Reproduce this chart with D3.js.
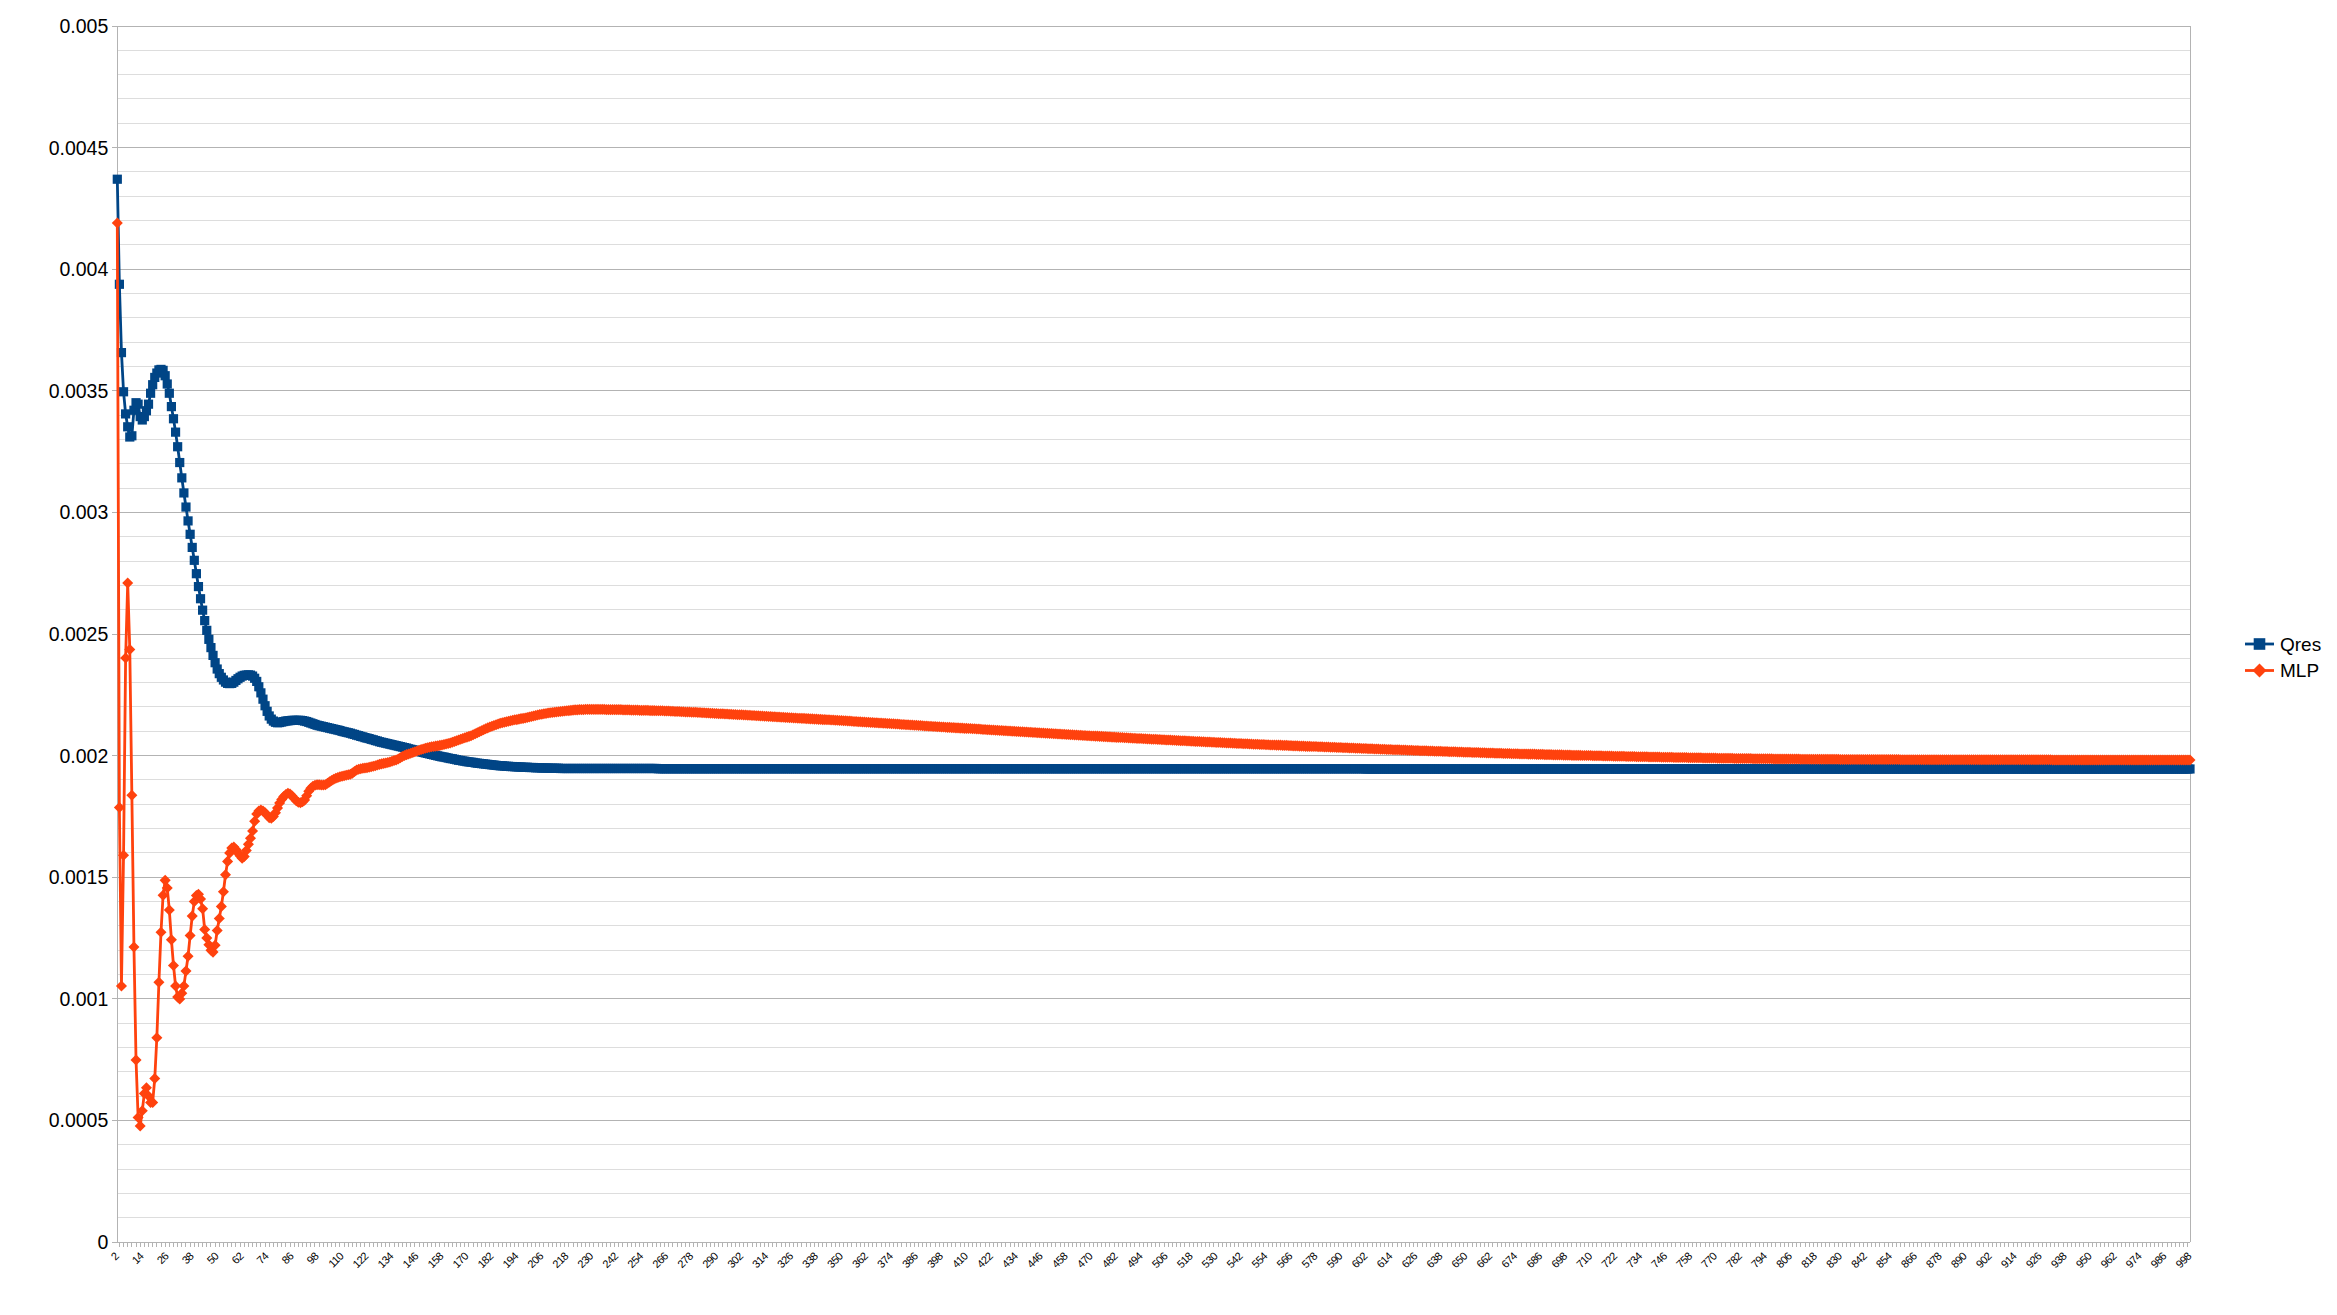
<!DOCTYPE html>
<html>
<head>
<meta charset="utf-8">
<script src="https://cdn.jsdelivr.net/npm/d3@7"></script>
<style>
	body { margin: 0; background: #fff; }
	svg { display: block; font-family: 'Liberation Sans', Arial, sans-serif; }
</style>
</head>
<body>
<div id="chart"></div>
<script>
'use strict';

// epochs on the category axis
const firstEpoch = 2;
const lastEpoch = 998;
const epochs = d3.range(firstEpoch, lastEpoch + 1);

const UNIT = 1e-6;

const qres = [
	4370,3938,3657,3496,3405,3352,3310,3315,3420,3451,
	3445,3394,3380,3394,3418,3445,3490,3525,3555,3573,
	3586,3588,3584,3562,3528,3490,3435,3385,3330,3270,
	3205,3142,3080,3022,2965,2910,2856,2803,2748,2695,
	2645,2598,2555,2515,2478,2444,2412,2382,2356,2337,
	2322,2311,2302,2297,2296,2297,2302,2309,2316,2322,
	2327,2330,2331,2332,2331,2327,2318,2305,2283,2258,
	2232,2205,2182,2163,2150,2142,2137,2135,2136,2138,
	2140,2142,2143,2144,2145,2145,2145,2145,2145,2144,
	2142,2140,2137,2134,2131,2128,2125,2123,2121,2119,
	2117,2115,2113,2111,2109,2107,2105,2103,2100,2098,
	2096,2094,2092,2089,2087,2084,2082,2079,2077,2074,
	2072,2070,2067,2065,2062,2060,2057,2055,2053,2051,
	2049,2047,2045,2043,2041,2039,2037,2035,2033,2031,
	2028,2026,2024,2022,2020,2017,2015,2013,2011,2009,
	2007,2005,2003,2001,1999,1997,1995,1994,1992,1990,
	1988,1987,1985,1983,1981,1980,1978,1977,1975,1974,
	1973,1972,1970,1969,1968,1967,1966,1965,1964,1963,
	1962,1961,1960,1959,1958,1958,1957,1956,1956,1955,
	1955,1954,1954,1953,1953,1952,1952,1952,1951,1951,
	1951,1950,1950,1950,1949,1949,1949,1949,1948,1948,
	1948,1948,1948,1947,1947,1947,1947,1947,1947,1947,
	1947,1947,1947,1947,1947,1947,1947,1947,1947,1947,
	1947,1947,1947,1947,1947,1947,1947,1947,1947,1947,
	1947,1947,1947,1947,1947,1947,1947,1947,1947,1947,
	1947,1947,1947,1947,1947,1947,1947,1947,1947,1947,
	1946,1946,1946,1946,1946,1946,1946,1946,1946,1946,
	1946,1946,1946,1946,1946,1946,1946,1946,1946,1946,
	1946,1946,1946,1946,1946,1946,1946,1946,1946,1946,
	1946,1946,1946,1946,1946,1946,1946,1946,1946,1946,
	1946,1946,1946,1946,1946,1946,1946,1946,1946,1946,
	1946,1946,1946,1946,1946,1946,1946,1946,1946,1946,
	1946,1946,1946,1946,1946,1946,1946,1946,1946,1946,
	1946,1946,1946,1946,1946,1946,1946,1946,1946,1946,
	1946,1946,1946,1946,1946,1946,1946,1946,1946,1946,
	1946,1946,1946,1946,1946,1946,1946,1946,1946,1946,
	1946,1946,1946,1946,1946,1946,1946,1946,1946,1946,
	1946,1946,1946,1946,1946,1946,1946,1946,1946,1946,
	1946,1946,1946,1946,1946,1946,1946,1946,1946,1946,
	1946,1946,1946,1946,1946,1946,1946,1946,1946,1946,
	1946,1946,1946,1946,1946,1946,1946,1946,1946,1946,
	1946,1946,1946,1946,1946,1946,1946,1946,1946,1946,
	1946,1946,1946,1946,1946,1946,1946,1946,1946,1946,
	1946,1946,1946,1946,1946,1946,1946,1946,1946,1946,
	1946,1946,1946,1946,1946,1946,1946,1946,1946,1946,
	1946,1946,1946,1946,1946,1946,1946,1946,1946,1946,
	1946,1946,1946,1946,1946,1946,1946,1946,1946,1946,
	1946,1946,1946,1946,1946,1946,1946,1946,1946,1946,
	1946,1946,1946,1946,1946,1946,1946,1946,1946,1946,
	1946,1946,1946,1946,1946,1946,1946,1946,1946,1946,
	1946,1946,1946,1946,1946,1946,1946,1946,1946,1946,
	1946,1946,1946,1946,1946,1946,1946,1946,1946,1946,
	1946,1946,1946,1946,1946,1946,1946,1946,1946,1946,
	1946,1946,1946,1946,1946,1946,1946,1946,1946,1946,
	1946,1946,1946,1946,1946,1946,1946,1946,1946,1946,
	1946,1946,1946,1946,1946,1946,1946,1946,1946,1946,
	1946,1946,1946,1946,1946,1946,1946,1946,1946,1946,
	1946,1946,1946,1946,1946,1946,1946,1946,1946,1946,
	1946,1946,1946,1946,1946,1946,1946,1946,1946,1946,
	1946,1946,1946,1946,1946,1946,1946,1946,1946,1946,
	1945,1945,1945,1945,1945,1945,1945,1945,1945,1945,
	1945,1945,1945,1945,1945,1945,1945,1945,1945,1945,
	1945,1945,1945,1945,1945,1945,1945,1945,1945,1945,
	1945,1945,1945,1945,1945,1945,1945,1945,1945,1945,
	1945,1945,1945,1945,1945,1945,1945,1945,1945,1945,
	1945,1945,1945,1945,1945,1945,1945,1945,1945,1945,
	1945,1945,1945,1945,1945,1945,1945,1945,1945,1945,
	1945,1945,1945,1945,1945,1945,1945,1945,1945,1945,
	1945,1945,1945,1945,1945,1945,1945,1945,1945,1945,
	1945,1945,1945,1945,1945,1945,1945,1945,1945,1945,
	1945,1945,1945,1945,1945,1945,1945,1945,1945,1945,
	1945,1945,1945,1945,1945,1945,1945,1945,1945,1945,
	1945,1945,1945,1945,1945,1945,1945,1945,1945,1945,
	1945,1945,1945,1945,1945,1945,1945,1945,1945,1945,
	1945,1945,1945,1945,1945,1945,1945,1945,1945,1945,
	1945,1945,1945,1945,1945,1945,1945,1945,1945,1945,
	1945,1945,1945,1945,1945,1945,1945,1945,1945,1945,
	1945,1945,1945,1945,1945,1945,1945,1945,1945,1945,
	1945,1945,1945,1945,1945,1945,1945,1945,1945,1945,
	1945,1945,1945,1945,1945,1945,1945,1945,1945,1945,
	1945,1945,1945,1945,1945,1945,1945,1945,1945,1945,
	1945,1945,1945,1945,1945,1945,1945,1945,1945,1945,
	1945,1945,1945,1945,1945,1945,1945,1945,1945,1945,
	1945,1945,1945,1945,1945,1945,1945,1945,1945,1945,
	1945,1945,1945,1945,1945,1945,1945,1945,1945,1945,
	1945,1945,1945,1945,1945,1945,1945,1945,1945,1945,
	1945,1945,1945,1945,1945,1945,1945,1945,1945,1945,
	1945,1945,1945,1945,1945,1945,1945,1945,1945,1945,
	1945,1945,1945,1945,1945,1945,1945,1945,1945,1945,
	1945,1945,1945,1945,1945,1945,1945,1945,1945,1945,
	1945,1945,1945,1945,1945,1945,1945,1945,1945,1945,
	1945,1945,1945,1945,1945,1945,1945,1945,1945,1945,
	1945,1945,1945,1945,1945,1945,1945,1945,1945,1945,
	1945,1945,1945,1945,1945,1945,1945,1945,1945,1945,
	1945,1945,1945,1945,1945,1945,1945,1945,1945,1945,
	1945,1945,1945,1945,1945,1945,1945,1945,1945,1945,
	1945,1945,1945,1945,1945,1945,1945,1945,1945,1945,
	1945,1945,1945,1945,1945,1945,1945,1945,1945,1945,
	1945,1945,1945,1945,1945,1945,1945,1945,1945,1945,
	1945,1945,1945,1945,1945,1945,1945,
];

const mlp = [
	4190,1787,1053,1590,2401,2710,2436,1837,1213,748,
	512,477,540,611,634,600,574,574,672,840,
	1068,1274,1426,1487,1456,1365,1243,1137,1053,1007,
	999,1023,1053,1114,1175,1260,1340,1400,1425,1430,
	1410,1370,1285,1250,1222,1200,1192,1220,1281,1330,
	1380,1440,1510,1565,1600,1620,1624,1614,1600,1588,
	1578,1585,1610,1635,1660,1690,1730,1760,1772,1776,
	1772,1765,1755,1745,1742,1750,1765,1785,1805,1820,
	1832,1840,1845,1842,1834,1824,1814,1808,1806,1810,
	1817,1835,1853,1866,1874,1878,1880,1880,1879,1879,
	1880,1886,1892,1898,1903,1907,1910,1913,1915,1917,
	1919,1921,1923,1928,1935,1941,1944,1946,1948,1949,
	1950,1952,1954,1956,1958,1961,1964,1966,1968,1970,
	1972,1974,1977,1980,1982,1986,1991,1996,2000,2004,
	2007,2010,2013,2016,2019,2022,2025,2027,2030,2032,
	2034,2036,2037,2039,2040,2042,2044,2046,2048,2050,
	2052,2055,2058,2061,2064,2067,2070,2073,2076,2079,
	2082,2086,2090,2094,2098,2102,2106,2110,2114,2118,
	2121,2124,2127,2130,2133,2135,2137,2139,2141,2143,
	2145,2147,2148,2150,2152,2153,2155,2157,2159,2161,
	2163,2165,2167,2169,2170,2172,2173,2175,2176,2177,
	2178,2179,2180,2181,2182,2183,2184,2185,2186,2187,
	2188,2188,2189,2189,2189,2190,2190,2190,2190,2190,
	2190,2190,2190,2190,2190,2189,2189,2189,2189,2189,
	2189,2189,2189,2188,2188,2188,2188,2187,2187,2187,
	2187,2186,2186,2186,2186,2186,2185,2185,2185,2184,
	2184,2184,2184,2183,2183,2183,2182,2182,2181,2181,
	2181,2180,2180,2179,2179,2179,2178,2178,2178,2177,
	2177,2176,2176,2175,2175,2174,2174,2173,2173,2172,
	2172,2172,2171,2171,2170,2170,2169,2169,2168,2168,
	2168,2167,2167,2166,2166,2165,2165,2164,2164,2163,
	2163,2162,2162,2161,2161,2160,2160,2159,2159,2158,
	2158,2157,2157,2156,2156,2155,2155,2154,2154,2153,
	2153,2152,2152,2151,2151,2150,2150,2149,2149,2148,
	2148,2147,2147,2146,2146,2145,2145,2144,2144,2143,
	2143,2142,2142,2141,2140,2140,2139,2139,2138,2138,
	2137,2137,2136,2136,2135,2135,2134,2134,2133,2133,
	2132,2132,2131,2131,2130,2130,2129,2128,2128,2127,
	2127,2126,2126,2125,2125,2124,2124,2123,2122,2122,
	2121,2121,2120,2120,2119,2119,2118,2118,2117,2116,
	2116,2115,2115,2114,2114,2113,2113,2112,2112,2111,
	2111,2110,2110,2109,2109,2108,2107,2107,2106,2106,
	2105,2105,2104,2104,2103,2103,2102,2102,2101,2101,
	2100,2100,2099,2099,2098,2098,2097,2097,2096,2096,
	2095,2095,2094,2094,2093,2093,2092,2092,2091,2091,
	2090,2090,2089,2089,2088,2088,2087,2087,2086,2086,
	2085,2085,2084,2084,2083,2083,2082,2082,2081,2081,
	2080,2080,2079,2079,2078,2078,2077,2077,2076,2076,
	2075,2075,2074,2074,2073,2073,2072,2072,2071,2071,
	2070,2070,2070,2069,2069,2068,2068,2067,2067,2067,
	2066,2066,2065,2065,2064,2064,2064,2063,2063,2062,
	2062,2061,2061,2061,2060,2060,2059,2059,2058,2058,
	2058,2057,2057,2056,2056,2056,2055,2055,2054,2054,
	2054,2053,2053,2052,2052,2052,2051,2051,2050,2050,
	2050,2049,2049,2049,2048,2048,2047,2047,2047,2046,
	2046,2046,2045,2045,2044,2044,2044,2043,2043,2043,
	2042,2042,2042,2041,2041,2040,2040,2040,2039,2039,
	2039,2038,2038,2038,2037,2037,2037,2036,2036,2036,
	2035,2035,2035,2034,2034,2034,2033,2033,2033,2032,
	2032,2032,2031,2031,2031,2030,2030,2030,2029,2029,
	2029,2028,2028,2028,2027,2027,2027,2026,2026,2026,
	2025,2025,2025,2024,2024,2024,2024,2023,2023,2023,
	2022,2022,2022,2021,2021,2021,2020,2020,2020,2020,
	2019,2019,2019,2018,2018,2018,2018,2017,2017,2017,
	2016,2016,2016,2016,2015,2015,2015,2014,2014,2014,
	2014,2013,2013,2013,2013,2012,2012,2012,2011,2011,
	2011,2011,2010,2010,2010,2010,2009,2009,2009,2009,
	2008,2008,2008,2008,2007,2007,2007,2007,2006,2006,
	2006,2006,2005,2005,2005,2005,2004,2004,2004,2004,
	2003,2003,2003,2003,2003,2002,2002,2002,2002,2001,
	2001,2001,2001,2001,2000,2000,2000,2000,2000,1999,
	1999,1999,1999,1999,1998,1998,1998,1998,1998,1997,
	1997,1997,1997,1997,1997,1996,1996,1996,1996,1996,
	1995,1995,1995,1995,1995,1995,1994,1994,1994,1994,
	1994,1994,1993,1993,1993,1993,1993,1993,1992,1992,
	1992,1992,1992,1992,1992,1991,1991,1991,1991,1991,
	1991,1991,1990,1990,1990,1990,1990,1990,1990,1989,
	1989,1989,1989,1989,1989,1989,1989,1988,1988,1988,
	1988,1988,1988,1988,1988,1988,1987,1987,1987,1987,
	1987,1987,1987,1987,1987,1987,1986,1986,1986,1986,
	1986,1986,1986,1986,1986,1986,1986,1986,1986,1985,
	1985,1985,1985,1985,1985,1985,1985,1985,1985,1985,
	1985,1985,1985,1985,1985,1985,1985,1985,1984,1984,
	1984,1984,1984,1984,1984,1984,1984,1984,1984,1984,
	1984,1984,1984,1984,1984,1984,1984,1984,1984,1984,
	1984,1984,1984,1984,1984,1984,1984,1983,1983,1983,
	1983,1983,1983,1983,1983,1983,1983,1983,1983,1983,
	1983,1983,1983,1983,1983,1983,1983,1983,1983,1983,
	1983,1983,1983,1983,1983,1983,1983,1983,1983,1983,
	1983,1983,1983,1983,1983,1983,1983,1983,1983,1983,
	1983,1983,1983,1983,1983,1983,1983,1983,1983,1983,
	1983,1983,1983,1983,1983,1983,1983,1983,1983,1983,
	1983,1983,1983,1983,1983,1983,1983,1983,1983,1983,
	1982,1982,1982,1982,1982,1982,1982,1982,1982,1982,
	1982,1982,1982,1982,1982,1982,1982,1982,1982,1982,
	1982,1982,1982,1982,1982,1982,1982,1982,1982,1982,
	1982,1982,1982,1982,1982,1982,1982,1982,1982,1982,
	1982,1982,1982,1982,1982,1982,1982,1982,1982,1982,
	1982,1982,1982,1982,1982,1982,1982,1982,1982,1982,
	1982,1982,1982,1982,1982,1982,1982,
];

const yTicks = [0, 0.0005, 0.001, 0.0015, 0.002, 0.0025, 0.003, 0.0035, 0.004, 0.0045, 0.005];
const yTickLabels = ['0', '0.0005', '0.001', '0.0015', '0.002', '0.0025', '0.003', '0.0035', '0.004', '0.0045', '0.005'];
const yMinorStep = 0.0001;
const labelEvery = 12;

const seriesNames = ['Qres', 'MLP'];
const seriesColors = ['#004586', '#ff420e'];

let W = 2337;
let H = 1315;
let plot = {left: 117.3, right: 2190, top: 26, bottom: 1242};

let svg = d3.select('#chart')
	.append('svg')
		.attr('width', W)
		.attr('height', H)
	;

let x = d3.scalePoint()
	.domain(epochs)
	.range([plot.left, plot.right])
	;
let y = d3.scaleLinear()
	.domain([0, 0.005])
	.range([plot.bottom, plot.top])
	;

// grid: minor first, major on top
let grid = svg.append('g').attr('shape-rendering', 'crispEdges');
let minor = d3.range(0, 50).map(k => k*yMinorStep).filter((v, k) => k % 5);
grid.selectAll('line.minor')
	.data(minor)
	.join('line')
		.classed('minor', true)
		.attr('x1', plot.left)
		.attr('x2', plot.right)
		.attr('y1', d => y(d))
		.attr('y2', d => y(d))
		.attr('stroke', '#dddddd')
		.attr('stroke-width', 1)
	;
grid.selectAll('line.major')
	.data(yTicks)
	.join('line')
		.classed('major', true)
		.attr('x1', plot.left - 5)
		.attr('x2', plot.right)
		.attr('y1', d => y(d))
		.attr('y2', d => y(d))
		.attr('stroke', '#b3b3b3')
		.attr('stroke-width', 1)
	;

// axis lines and right edge
grid.append('line')
	.attr('x1', plot.left).attr('x2', plot.left)
	.attr('y1', plot.top).attr('y2', plot.bottom)
	.attr('stroke', '#b3b3b3')
	;
grid.append('line')
	.attr('x1', plot.right).attr('x2', plot.right)
	.attr('y1', plot.top).attr('y2', plot.bottom)
	.attr('stroke', '#b3b3b3')
	;

// x ticks every other category, starting between the first two
let tickEpochs = epochs.filter((d, i) => i % 2 == 1);
grid.selectAll('line.xtick')
	.data(tickEpochs)
	.join('line')
		.classed('xtick', true)
		.attr('x1', d => x(d))
		.attr('x2', d => x(d))
		.attr('y1', plot.bottom)
		.attr('y2', plot.bottom + 5)
		.attr('stroke', '#b3b3b3')
	;

svg.selectAll('text.ylabel')
	.data(yTicks)
	.join('text')
		.classed('ylabel', true)
		.attr('x', plot.left - 9)
		.attr('y', d => y(d))
		.attr('dy', '0.36em')
		.attr('text-anchor', 'end')
		.attr('font-size', '19.5px')
		.attr('fill', '#000')
		.text((d, i) => yTickLabels[i])
	;

let xLabels = epochs.filter((d, i) => i % labelEvery == 0);
svg.selectAll('text.xlabel')
	.data(xLabels)
	.join('text')
		.classed('xlabel', true)
		.attr('transform', d => 'translate(' + (x(d) + 2) + ',' + (plot.bottom + 15) + ') rotate(-45)')
		.attr('text-anchor', 'end')
		.attr('font-size', '11px')
		.attr('letter-spacing', '-0.6px')
		.attr('fill', '#000')
		.text(d => d)
	;

function marker(k, s) {
	if (k == 0) {
		return 'M' + (-s) + ',' + (-s) + 'h' + (2*s) + 'v' + (2*s) + 'h' + (-2*s) + 'Z';
	}
	let r = s*1.2;
	return 'M0,' + (-r) + 'L' + r + ',0L0,' + r + 'L' + (-r) + ',0Z';
}

let series = [qres, mlp];
let line = d3.line()
	.x((d, i) => x(epochs[i]))
	.y(d => y(d*UNIT))
	;

for (let k=0 ; k<series.length ; ++k) {
	let g = svg.append('g').classed('series', true);
	g.append('path')
		.attr('d', line(series[k]))
		.attr('fill', 'none')
		.attr('stroke', seriesColors[k])
		.attr('stroke-width', 2.8)
		.attr('stroke-linejoin', 'round')
		;
	g.selectAll('path.pt')
		.data(series[k])
		.join('path')
			.classed('pt', true)
			.attr('transform', (d, i) => 'translate(' + x(epochs[i]) + ',' + y(d*UNIT) + ')')
			.attr('d', marker(k, 4.6))
			.attr('fill', seriesColors[k])
		;
}

// legend
let legend = svg.append('g').attr('transform', 'translate(2245, 644)');
for (let k=0 ; k<seriesNames.length ; ++k) {
	let row = legend.append('g').attr('transform', 'translate(0,' + (k*26.5) + ')');
	row.append('line')
		.attr('x1', 0).attr('x2', 29)
		.attr('y1', 0).attr('y2', 0)
		.attr('stroke', seriesColors[k])
		.attr('stroke-width', 2.8)
		;
	row.append('path')
		.attr('transform', 'translate(14.5,0)')
		.attr('d', marker(k, 5.8))
		.attr('fill', seriesColors[k])
		;
	row.append('text')
		.attr('x', 35)
		.attr('y', 0)
		.attr('dy', '0.36em')
		.attr('font-size', '19px')
		.attr('fill', '#000')
		.text(seriesNames[k])
		;
}
</script>
</body>
</html>
